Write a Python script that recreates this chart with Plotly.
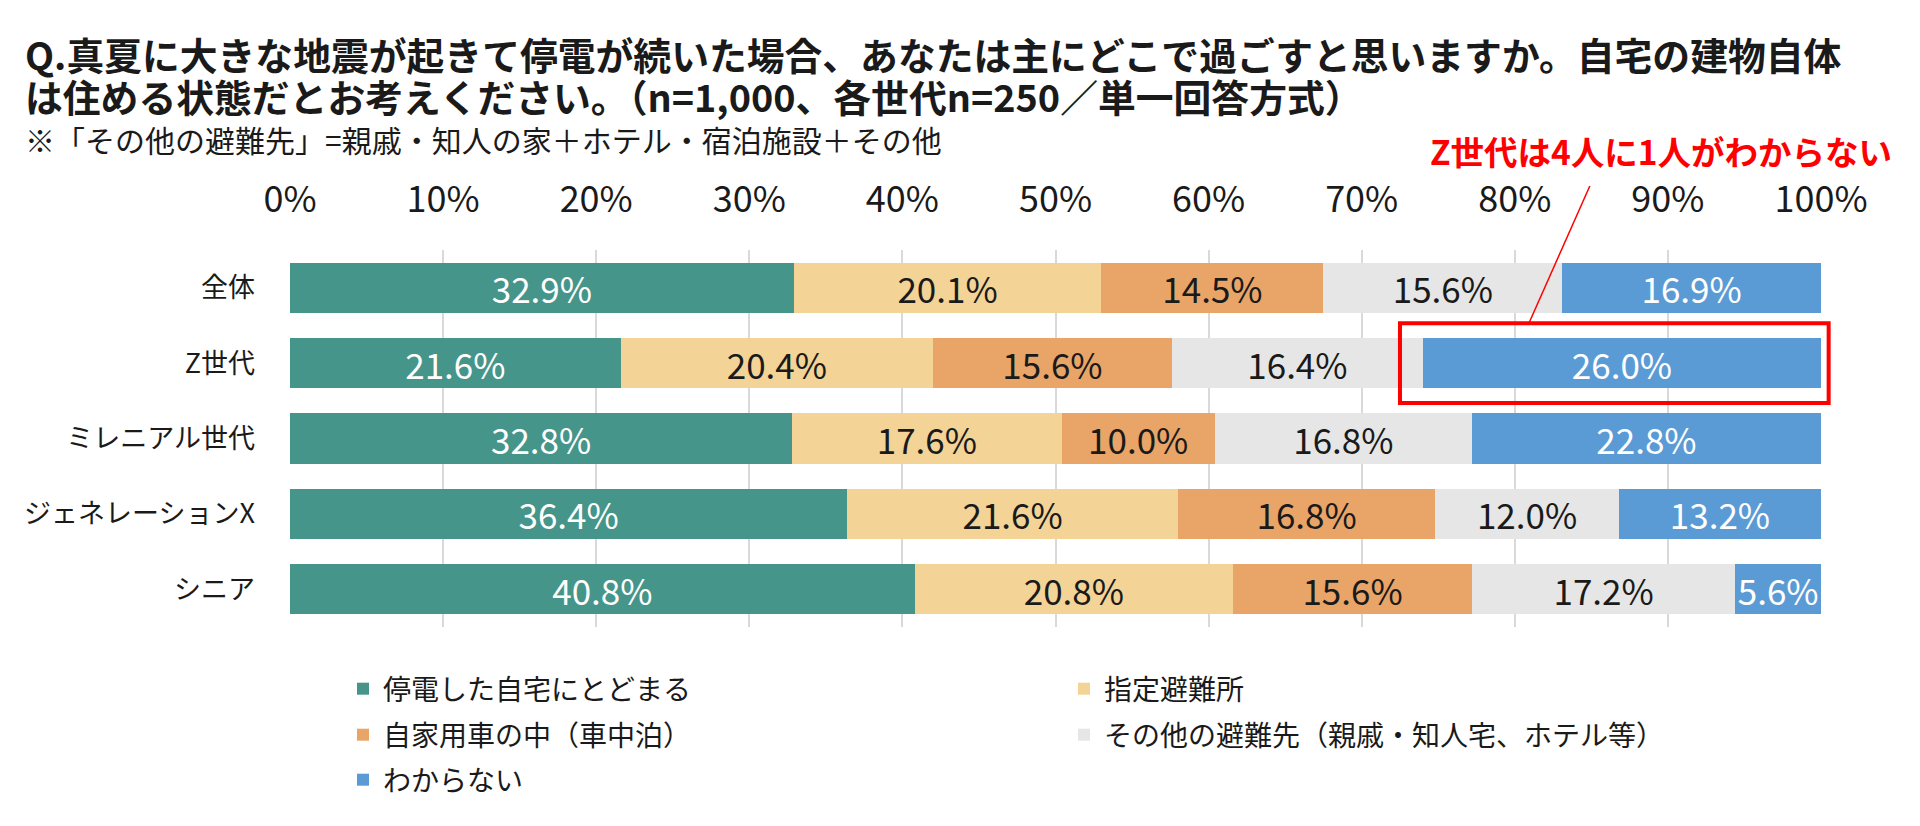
"""
Stacked bar chart: where people would stay during a summer blackout after a big earthquake.
"""

import plotly.graph_objects as go

# Categories (top to bottom)
groups = ['全体', 'Z世代', 'ミレニアル世代', 'ジェネレーションX', 'シニア']

# Series values (% of respondents)
stay_home = [32.9, 21.6, 32.8, 36.4, 40.8]
shelter = [20.1, 20.4, 17.6, 21.6, 20.8]
car = [14.5, 15.6, 10.0, 16.8, 15.6]
other_place = [15.6, 16.4, 16.8, 12.0, 17.2]
dont_know = [16.9, 26.0, 22.8, 13.2, 5.6]

series_names = [
    '停電した自宅にとどまる',
    '指定避難所',
    '自家用車の中（車中泊）',
    'その他の避難先（親戚・知人宅、ホテル等）',
    'わからない',
]

tick_values = [0, 10, 20, 30, 40, 50, 60, 70, 80, 90, 100]
tick_labels = ['0%', '10%', '20%', '30%', '40%', '50%', '60%', '70%', '80%', '90%', '100%']

FONT = 'Noto Sans CJK JP'

# Plot area in screen pixels; the page body adds an 8px offset
W, H = 1920, 826
BODY = 8
PLOT_LEFT, PLOT_RIGHT = 290, 1821
PLOT_TOP, PLOT_BOTTOM = 250, 627


def px_x(px):
    return (px - PLOT_LEFT) / (PLOT_RIGHT - PLOT_LEFT)


def px_y(py):
    return (PLOT_BOTTOM - py) / (PLOT_BOTTOM - PLOT_TOP)


fig = go.Figure()

series = [
    (series_names[0], stay_home, '#46958A', 'white', 'legend'),
    (series_names[1], shelter, '#F3D396', '#1A1A1A', 'legend'),
    (series_names[2], car, '#E9A467', '#1A1A1A', 'legend2'),
    (series_names[3], other_place, '#E6E6E6', '#1A1A1A', 'legend2'),
    (series_names[4], dont_know, '#5B9BD5', 'white', 'legend3'),
]

for name, vals, color, txt_color, leg in series:
    fig.add_trace(go.Bar(
        y=groups, x=vals, name=name, orientation='h',
        marker=dict(color=color, line=dict(width=0)),
        texttemplate='%{x:.1f}%', textposition='inside',
        insidetextanchor='middle', constraintext='none',
        textfont=dict(family=FONT, size=35, color=txt_color),
        hoverinfo='skip', legend=leg,
    ))

legend_style = dict(
    orientation='h', traceorder='normal',
    x=px_x(343), xanchor='left', yanchor='middle',
    entrywidth=676, entrywidthmode='pixels',
    font=dict(family=FONT, size=28, color='#1A1A1A'),
    itemwidth=30, bgcolor='rgba(0,0,0,0)',
)

fig.update_layout(
    width=W, height=H,
    barmode='stack', bargap=0.335,
    paper_bgcolor='white', plot_bgcolor='white',
    margin=dict(l=PLOT_LEFT - BODY, r=W - PLOT_RIGHT + BODY,
                t=PLOT_TOP - BODY, b=H - PLOT_BOTTOM + BODY, pad=0),
    font=dict(family=FONT, color='#1A1A1A'),
    showlegend=True,
    legend=dict(legend_style, y=px_y(689)),
    legend2=dict(legend_style, y=px_y(735)),
    legend3=dict(legend_style, y=px_y(780)),
)

fig.update_xaxes(
    range=[0, 100], side='top',
    tickvals=tick_values, ticktext=tick_labels,
    tickfont=dict(family=FONT, size=36, color='#1A1A1A'),
    showgrid=True, gridcolor='#D9D9D9', gridwidth=2,
    zeroline=False, showline=False,
    ticks='', ticklabelstandoff=30,
    fixedrange=True,
)
fig.update_yaxes(
    autorange='reversed',
    tickfont=dict(family=FONT, size=27, color='#1A1A1A'),
    showgrid=False, zeroline=False, showline=False,
    ticks='', ticklabelstandoff=34,
    fixedrange=True,
)

# Title lines and note
fig.add_annotation(
    text='<b>Q.真夏に大きな地震が起きて停電が続いた場合、あなたは主にどこで過ごすと思いますか。自宅の建物自体</b>',
    xref='paper', yref='paper', x=px_x(23), y=px_y(53),
    xanchor='left', yanchor='middle', showarrow=False,
    font=dict(family=FONT, size=37.8, color='#1A1A1A'),
)
fig.add_annotation(
    text='<b>は住める状態だとお考えください。（n=1,000、各世代n=250／単一回答方式）</b>',
    xref='paper', yref='paper', x=px_x(23), y=px_y(95),
    xanchor='left', yanchor='middle', showarrow=False,
    font=dict(family=FONT, size=37.8, color='#1A1A1A'),
)
fig.add_annotation(
    text='※「その他の避難先」=親戚・知人の家＋ホテル・宿泊施設＋その他',
    xref='paper', yref='paper', x=px_x(23), y=px_y(139),
    xanchor='left', yanchor='middle', showarrow=False,
    font=dict(family=FONT, size=30, color='#1A1A1A'),
)

# Callout on Z世代 "わからない"
z = groups.index('Z世代')
n = len(groups)
fig.add_shape(
    type='rect', xref='paper', yref='paper',
    x0=(100 - dont_know[z] - 1.5) / 100, x1=1.005,
    y0=1 - (z + 0.5 + 0.53) / n, y1=1 - (z + 0.5 - 0.53) / n,
    line=dict(color='#FF0000', width=4), fillcolor='rgba(0,0,0,0)',
)
fig.add_shape(
    type='line', xref='x', yref='paper',
    x0=80.9, y0=px_y(324), x1=84.9, y1=px_y(186),
    line=dict(color='#FF0000', width=1.5),
)
fig.add_annotation(
    text='<b>Z世代は4人に1人がわからない</b>',
    xref='paper', yref='paper', x=px_x(1894), y=px_y(150),
    xanchor='right', yanchor='middle', showarrow=False,
    font=dict(family=FONT, size=33.5, color='#FF0000'),
)

fig.write_html("out.html")
